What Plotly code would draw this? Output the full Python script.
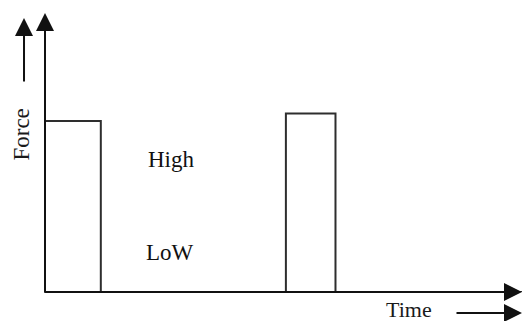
import plotly.graph_objects as go

# Data: force pulses over time (arbitrary units)
time_pts = [0, 0, 1.17, 1.17, 5.05, 5.05, 6.09, 6.09, 10]
force_pts = [0, 6.13, 6.13, 0, 0, 6.4, 6.4, 0, 0]
level_labels = ["High", "LoW"]
level_x = [2.65, 2.62]
level_y = [4.75, 1.43]
x_title = "Time"
y_title = "Force"

FONT = "Liberation Serif, Times New Roman, serif"
AS = 1.8

fig = go.Figure()
fig.add_trace(go.Scatter(x=time_pts, y=force_pts, mode="lines",
                         line=dict(color="#2e2e2e", width=2),
                         hoverinfo="skip", showlegend=False))

ann = []
for t, x, y in zip(level_labels, level_x, level_y):
    ann.append(dict(x=x, y=y, xref="x", yref="y", text=t, showarrow=False,
                    xanchor="center", yanchor="middle",
                    font=dict(family=FONT, size=23, color="#111")))

# axis lines with arrowheads
ann.append(dict(x=0, y=1.0, xref="paper", yref="paper", ax=0, ay=281,
                showarrow=True, text="",
                arrowhead=2, arrowsize=AS, arrowwidth=2, arrowcolor="#111", standoff=0))
ann.append(dict(x=1.0, y=0, xref="paper", yref="paper", ax=-479, ay=0,
                showarrow=True, text="",
                arrowhead=2, arrowsize=AS, arrowwidth=2, arrowcolor="#111", standoff=0))
# Force label + arrow
ann.append(dict(x=-0.0493, y=0.566, xref="paper", yref="paper", text=y_title,
                textangle=-90, showarrow=False, xanchor="center", yanchor="middle",
                font=dict(family=FONT, size=23, color="#1a1a1a")))
ann.append(dict(x=-0.044, y=0.982, xref="paper", yref="paper", ax=0, ay=65,
                showarrow=True, text="",
                arrowhead=2, arrowsize=AS, arrowwidth=2, arrowcolor="#111", standoff=0))
# Time label + arrow
ann.append(dict(x=0.763, y=-0.063, xref="paper", yref="paper", text=x_title,
                showarrow=False, xanchor="center", yanchor="middle",
                font=dict(family=FONT, size=22, color="#1a1a1a")))
ann.append(dict(x=1.0, y=-0.075, xref="paper", yref="paper", ax=-67, ay=0,
                showarrow=True, text="",
                arrowhead=2, arrowsize=AS, arrowwidth=2, arrowcolor="#111", standoff=0))

fig.update_layout(
    width=523, height=321,
    margin=dict(l=45, r=1, t=13, b=29),
    paper_bgcolor="white", plot_bgcolor="white",
    xaxis=dict(range=[0, 10], showgrid=False, zeroline=False, showticklabels=False,
               ticks="", showline=False, fixedrange=True),
    yaxis=dict(range=[0, 10], showgrid=False, zeroline=False, showticklabels=False,
               ticks="", showline=False, fixedrange=True),
    annotations=ann,
)
fig.write_html("out.html", config={"displayModeBar": False},
               post_script="document.body.style.margin='0';document.body.style.overflow='hidden';")
